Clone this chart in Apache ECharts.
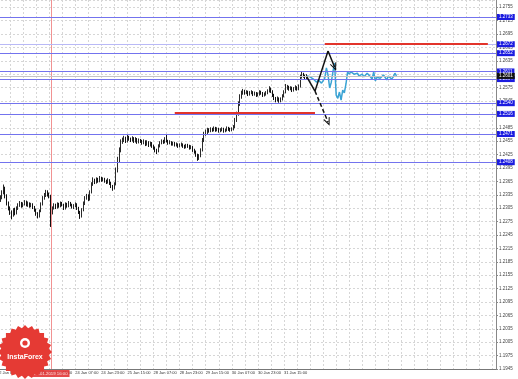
<!DOCTYPE html>
<html><head><meta charset="utf-8">
<script src="https://cdn.jsdelivr.net/npm/echarts@6/dist/echarts.min.js"></script>
<style>html,body{margin:0;padding:0;background:#fff;overflow:hidden;width:518px;height:379px}#c{width:524px;height:379px;margin-left:-6px}</style>
</head><body><div id="c"></div>
<script>
// ---- time categories (H1 bars, weekend skipped) ----
const days = ['22 Jan','23 Jan','24 Jan','25 Jan','28 Jan','29 Jan','30 Jan','31 Jan','01 Feb','04 Feb','05 Feb','06 Feb','07 Feb','08 Feb'];
const firstHour = 7;
const barCount = 307;
const lastLabelIndex = 176;

// ---- OHLC data ----
const opens = [
1.2318,1.2312,1.2323,1.2328,1.2341,1.2350,1.2332,1.2316,1.2305,1.2296,
1.2290,1.2301,1.2294,1.2305,1.2312,1.2316,1.2310,1.2314,1.2319,1.2312,
1.2316,1.2310,1.2314,1.2307,1.2301,1.2292,1.2287,1.2299,1.2314,1.2328,
1.2334,1.2341,1.2336,1.2332,1.2296,1.2305,1.2312,1.2307,1.2314,1.2310,
1.2316,1.2312,1.2305,1.2314,1.2310,1.2316,1.2312,1.2307,1.2310,1.2314,
1.2305,1.2296,1.2287,1.2301,1.2316,1.2328,1.2332,1.2325,1.2341,1.2359,
1.2368,1.2363,1.2370,1.2366,1.2372,1.2368,1.2370,1.2366,1.2363,1.2368,
1.2361,1.2354,1.2350,1.2359,1.2390,1.2413,1.2435,1.2453,1.2457,1.2462,
1.2455,1.2464,1.2460,1.2457,1.2462,1.2455,1.2460,1.2453,1.2457,1.2455,
1.2451,1.2455,1.2448,1.2453,1.2446,1.2451,1.2444,1.2440,1.2435,1.2433,
1.2444,1.2451,1.2455,1.2453,1.2460,1.2455,1.2451,1.2453,1.2448,1.2451,
1.2446,1.2448,1.2444,1.2446,1.2448,1.2444,1.2442,1.2446,1.2444,1.2440,
1.2442,1.2435,1.2431,1.2424,1.2417,1.2422,1.2435,1.2457,1.2471,1.2475,
1.2480,1.2478,1.2482,1.2480,1.2484,1.2480,1.2482,1.2478,1.2480,1.2482,
1.2478,1.2480,1.2484,1.2482,1.2480,1.2482,1.2487,1.2502,1.2516,1.2538,
1.2554,1.2563,1.2567,1.2563,1.2565,1.2560,1.2563,1.2565,1.2560,1.2563,
1.2558,1.2560,1.2565,1.2563,1.2558,1.2560,1.2563,1.2567,1.2572,1.2567,
1.2558,1.2551,1.2547,1.2551,1.2545,1.2549,1.2556,1.2565,1.2574,1.2576,
1.2572,1.2574,1.2569,1.2572,1.2576,1.2572,1.2578,1.2599,1.2605,1.2601,
1.2596];
const closes = [
1.2312,1.2323,1.2328,1.2341,1.2350,1.2332,1.2316,1.2305,1.2296,1.2290,
1.2301,1.2294,1.2305,1.2312,1.2316,1.2310,1.2314,1.2319,1.2312,1.2316,
1.2310,1.2314,1.2307,1.2301,1.2292,1.2287,1.2299,1.2314,1.2328,1.2334,
1.2341,1.2336,1.2332,1.2296,1.2305,1.2312,1.2307,1.2314,1.2310,1.2316,
1.2312,1.2305,1.2314,1.2310,1.2316,1.2312,1.2307,1.2310,1.2314,1.2305,
1.2296,1.2287,1.2301,1.2316,1.2328,1.2332,1.2325,1.2341,1.2359,1.2368,
1.2363,1.2370,1.2366,1.2372,1.2368,1.2370,1.2366,1.2363,1.2368,1.2361,
1.2354,1.2350,1.2359,1.2390,1.2413,1.2435,1.2453,1.2457,1.2462,1.2455,
1.2464,1.2460,1.2457,1.2462,1.2455,1.2460,1.2453,1.2457,1.2455,1.2451,
1.2455,1.2448,1.2453,1.2446,1.2451,1.2444,1.2440,1.2435,1.2433,1.2444,
1.2451,1.2455,1.2453,1.2460,1.2455,1.2451,1.2453,1.2448,1.2451,1.2446,
1.2448,1.2444,1.2446,1.2448,1.2444,1.2442,1.2446,1.2444,1.2440,1.2442,
1.2435,1.2431,1.2424,1.2417,1.2422,1.2435,1.2457,1.2471,1.2475,1.2480,
1.2478,1.2482,1.2480,1.2484,1.2480,1.2482,1.2478,1.2480,1.2482,1.2478,
1.2480,1.2484,1.2482,1.2480,1.2482,1.2487,1.2502,1.2516,1.2538,1.2554,
1.2563,1.2567,1.2563,1.2565,1.2560,1.2563,1.2565,1.2560,1.2563,1.2558,
1.2560,1.2565,1.2563,1.2558,1.2560,1.2563,1.2567,1.2572,1.2567,1.2558,
1.2551,1.2547,1.2551,1.2545,1.2549,1.2556,1.2565,1.2574,1.2576,1.2572,
1.2574,1.2569,1.2572,1.2576,1.2572,1.2578,1.2599,1.2605,1.2601,1.2596,
1.2601];
const highs = [
1.2325,1.2328,1.2334,1.2345,1.2358,1.2353,1.2336,1.2320,1.2309,1.2300,
1.2305,1.2306,1.2309,1.2316,1.2321,1.2319,1.2318,1.2323,1.2322,1.2320,
1.2318,1.2317,1.2316,1.2310,1.2304,1.2296,1.2302,1.2318,1.2332,1.2339,
1.2346,1.2345,1.2340,1.2335,1.2309,1.2316,1.2315,1.2318,1.2317,1.2320,
1.2319,1.2315,1.2318,1.2317,1.2321,1.2319,1.2315,1.2314,1.2318,1.2316,
1.2308,1.2299,1.2305,1.2320,1.2332,1.2337,1.2336,1.2345,1.2363,1.2374,
1.2371,1.2374,1.2373,1.2377,1.2375,1.2374,1.2373,1.2369,1.2372,1.2370,
1.2364,1.2357,1.2363,1.2396,1.2420,1.2441,1.2459,1.2463,1.2467,1.2465,
1.2469,1.2467,1.2463,1.2466,1.2464,1.2464,1.2462,1.2461,1.2460,1.2458,
1.2459,1.2457,1.2457,1.2455,1.2454,1.2453,1.2447,1.2443,1.2438,1.2448,
1.2455,1.2459,1.2458,1.2464,1.2471,1.2458,1.2457,1.2455,1.2454,1.2453,
1.2452,1.2450,1.2450,1.2452,1.2450,1.2447,1.2449,1.2449,1.2447,1.2446,
1.2444,1.2438,1.2434,1.2427,1.2426,1.2439,1.2462,1.2476,1.2481,1.2485,
1.2484,1.2486,1.2485,1.2488,1.2487,1.2486,1.2485,1.2484,1.2486,1.2485,
1.2483,1.2488,1.2487,1.2485,1.2486,1.2491,1.2507,1.2521,1.2544,1.2560,
1.2568,1.2572,1.2570,1.2569,1.2568,1.2567,1.2569,1.2567,1.2566,1.2565,
1.2564,1.2569,1.2568,1.2565,1.2564,1.2567,1.2571,1.2578,1.2575,1.2569,
1.2561,1.2554,1.2555,1.2553,1.2553,1.2560,1.2569,1.2583,1.2581,1.2579,
1.2578,1.2577,1.2576,1.2580,1.2578,1.2582,1.2604,1.2611,1.2608,1.2604,
1.2605];
const lows = [
1.2305,1.2308,1.2319,1.2325,1.2336,1.2327,1.2311,1.2300,1.2290,1.2280,
1.2286,1.2289,1.2291,1.2301,1.2308,1.2306,1.2307,1.2311,1.2309,1.2308,
1.2306,1.2307,1.2303,1.2297,1.2288,1.2282,1.2284,1.2296,1.2311,1.2324,
1.2330,1.2331,1.2327,1.2263,1.2291,1.2302,1.2303,1.2304,1.2306,1.2307,
1.2309,1.2301,1.2302,1.2306,1.2307,1.2309,1.2304,1.2303,1.2307,1.2301,
1.2292,1.2281,1.2284,1.2298,1.2312,1.2324,1.2321,1.2322,1.2338,1.2355,
1.2359,1.2360,1.2362,1.2363,1.2364,1.2365,1.2362,1.2359,1.2360,1.2357,
1.2350,1.2344,1.2347,1.2356,1.2385,1.2408,1.2430,1.2449,1.2453,1.2451,
1.2452,1.2456,1.2453,1.2454,1.2451,1.2452,1.2449,1.2450,1.2451,1.2447,
1.2448,1.2444,1.2445,1.2442,1.2443,1.2440,1.2436,1.2430,1.2426,1.2430,
1.2441,1.2448,1.2449,1.2450,1.2452,1.2447,1.2448,1.2445,1.2445,1.2443,
1.2443,1.2440,1.2441,1.2443,1.2440,1.2438,1.2439,1.2440,1.2436,1.2437,
1.2431,1.2427,1.2420,1.2411,1.2413,1.2419,1.2432,1.2453,1.2467,1.2471,
1.2474,1.2475,1.2476,1.2477,1.2476,1.2477,1.2474,1.2475,1.2477,1.2474,
1.2475,1.2477,1.2478,1.2476,1.2477,1.2479,1.2484,1.2498,1.2512,1.2534,
1.2550,1.2559,1.2559,1.2560,1.2556,1.2557,1.2560,1.2556,1.2557,1.2554,
1.2555,1.2557,1.2559,1.2554,1.2555,1.2557,1.2560,1.2564,1.2563,1.2554,
1.2547,1.2542,1.2544,1.2541,1.2542,1.2546,1.2553,1.2562,1.2570,1.2568,
1.2569,1.2565,1.2566,1.2569,1.2568,1.2569,1.2575,1.2595,1.2597,1.2592,
1.2593];

// ---- cyan continuation line ----
const cyanStart = 190;
const cyanValues = [
1.2601,1.2601,1.2599,1.2598,1.2594,1.2590,1.2587,1.2592,1.2590,1.2585,
1.2588,1.2596,1.2619,1.2603,1.2574,1.2587,1.2610,1.2630,1.2558,1.2551,
1.2565,1.2547,1.2569,1.2563,1.2583,1.2610,1.2605,1.2610,1.2607,1.2605,
1.2603,1.2607,1.2601,1.2603,1.2605,1.2599,1.2601,1.2607,1.2603,1.2599,
1.2594,1.2610,1.2590,1.2598,1.2601,1.2596,1.2594,1.2603,1.2598,1.2592,
1.2601,1.2605,1.2594,1.2599,1.2607,1.2601];

// ---- analyst drawings (data coordinates: [bar index, price]) ----
const arrowPath = [[190,1.2599],[195,1.2567],[203,1.2657],[207,1.2621]];
const dashedArrow = [[195,1.2567],[203,1.2498]];
const levels = [1.2733,1.2672,1.2652,1.2611,1.2594,1.2540,1.2516,1.2471,1.2408];
const redSegments = [[201,301,1.2672],[109,195,1.2518]];
const markerIndex = 33;
const markerLabel = '23.01.2019 16:00';

// ---- y axis ----
const yMin = 1.1945, yMax = 1.2771, yStep = 0.0030;

// build categories
const categories = [];
for (let d = 0; d < days.length && categories.length < barCount; d++) {
  for (let h = (d === 0 ? firstHour : 0); h < 24 && categories.length < barCount; h++) {
    categories.push(days[d] + ' ' + (h < 10 ? '0' : '') + h + ':00');
  }
}
const candleData = opens.map((o, i) => [o, closes[i], lows[i], highs[i]]);
const cyanData = cyanValues.map((v, i) => [cyanStart + i, v]);
const bid = closes[closes.length - 1];
const lastIdx = barCount - 1;

const FONT = 'Liberation Sans, Arial, sans-serif';
const lightLevel = 1.2672;
function boxLabel(text, bg) {
  return {show: true, position: 'end', distance: 1, formatter: text,
    color: '#fff', backgroundColor: bg, fontSize: 4.5, fontFamily: FONT, padding: [1, 2, 0, 2]};
}
const levelLines = levels.map(v => [
  {coord: [0, v], symbol: 'none'},
  {coord: [lastIdx, v], symbol: 'none',
    lineStyle: {color: v === lightLevel ? '#b9b9f6' : '#7373ee', width: 1, type: 'solid'},
    label: boxLabel(v.toFixed(4), '#1c1ce0')}
]);
const bidLine = [
  {coord: [0, bid], symbol: 'none'},
  {coord: [lastIdx, bid], symbol: 'none',
    lineStyle: {color: '#c4c4c4', width: 1, type: 'solid'},
    label: boxLabel(bid.toFixed(4), '#111')}
];
const redLines = redSegments.map(s => [
  {coord: [s[0], s[2]], symbol: 'none'},
  {coord: [s[1], s[2]], symbol: 'none', lineStyle: {color: '#e2342b', width: 2, type: 'solid'}, label: {show: false}}
]);
const markerLine = {
  xAxis: markerIndex,
  lineStyle: {color: '#ee7f7f', width: 1, type: 'solid', opacity: 0.85},
  label: {show: true, position: 'start', distance: 1, formatter: markerLabel,
    color: '#fff', backgroundColor: '#e22a2a', fontSize: 4.3, fontFamily: FONT, padding: [2, 2, 1, 2]}
};

const chevron = 'path://M0,10 L5,0 L10,10 L8.4,10 L5,3.2 L1.6,10 Z';
const arrowSegs = [];
for (let i = 0; i < arrowPath.length - 1; i++) {
  const last = i === arrowPath.length - 2;
  arrowSegs.push([
    {coord: arrowPath[i], symbol: 'none'},
    {coord: arrowPath[i + 1], symbol: last ? chevron : 'none', symbolSize: [7, 8],
      lineStyle: {color: '#111', width: 1.5, type: 'solid'}, label: {show: false}}
  ]);
}
arrowSegs.push([
  {coord: dashedArrow[0], symbol: 'none'},
  {coord: dashedArrow[1], symbol: chevron, symbolSize: [7, 8],
    lineStyle: {color: '#111', width: 1.5, type: [4, 2.5]}, label: {show: false}}
]);

// logo decoration (chart canvas is shifted 6px left)
const LX = 31, LY = 352;
const logoPts = [];
for (let i = 0; i < 48; i++) {
  const a = i / 48 * Math.PI * 2;
  const r = i % 2 ? 24 : 27;
  logoPts.push([LX + r * Math.cos(a), LY + r * Math.sin(a)]);
}

const chart = echarts.init(document.getElementById('c'), null, {renderer: 'canvas'});
chart.setOption({
  animation: false,
  backgroundColor: '#ffffff',
  grid: {left: 0, right: 22, top: 0, bottom: 10, containLabel: false},
  xAxis: {
    type: 'category', data: categories, boundaryGap: false,
    axisLine: {show: true, lineStyle: {color: '#777', width: 1}},
    axisTick: {show: false},
    axisLabel: {
      interval: (i) => i % 16 === 0 && i <= lastLabelIndex,
      align: 'left', color: '#333', fontSize: 4, fontFamily: FONT, margin: 2, hideOverlap: false
    },
    splitLine: {show: true, interval: (i) => i % 8 === 0, lineStyle: {color: '#d6d6d6', type: [2, 2], width: 1}}
  },
  yAxis: {
    type: 'value', position: 'right', min: yMin, max: yMax, interval: yStep, scale: true,
    axisLine: {show: true, lineStyle: {color: '#888', width: 1}},
    axisTick: {show: true, length: 2, lineStyle: {color: '#888'}},
    axisLabel: {show: true, showMaxLabel: false, formatter: v => v.toFixed(4), color: '#444',
      fontSize: 4.5, fontFamily: FONT, margin: 3},
    splitLine: {show: true, lineStyle: {color: '#d6d6d6', type: [2, 2], width: 1}}
  },
  series: [
    {
      type: 'candlestick', data: candleData, barWidth: 1.3, z: 3,
      itemStyle: {color: '#9a9a9a', color0: '#1a1a1a', borderColor: '#2a2a2a', borderColor0: '#111', borderWidth: 1},
      markLine: {silent: true, animation: false, symbol: ['none', 'none'], data: [markerLine]}
    },
    {
      type: 'line', data: [], silent: true, z: 2,
      markLine: {silent: true, animation: false, symbol: ['none', 'none'],
        data: [...levelLines, bidLine, ...redLines]}
    },
    {
      type: 'line', data: cyanData, showSymbol: false, symbol: 'none',
      lineStyle: {color: '#3aa3d4', width: 1.5}, z: 4,
      markLine: {silent: true, animation: false, data: arrowSegs, label: {show: false}}
    }
  ],
  graphic: [
    {type: 'polygon', shape: {points: logoPts}, style: {fill: '#e53a34'}, z: 100},
    {type: 'circle', shape: {cx: LX, cy: LY - 9, r: 5}, style: {fill: '#fff'}, z: 101},
    {type: 'circle', shape: {cx: LX, cy: LY - 9, r: 2.6}, style: {fill: '#e53a34'}, z: 102},
    {type: 'text', x: LX, y: LY + 5, style: {text: 'InstaForex', fill: '#fff', font: 'bold 7px ' + FONT, textAlign: 'center', textVerticalAlign: 'middle'}, z: 103}
  ]
});
</script>
</body></html>
